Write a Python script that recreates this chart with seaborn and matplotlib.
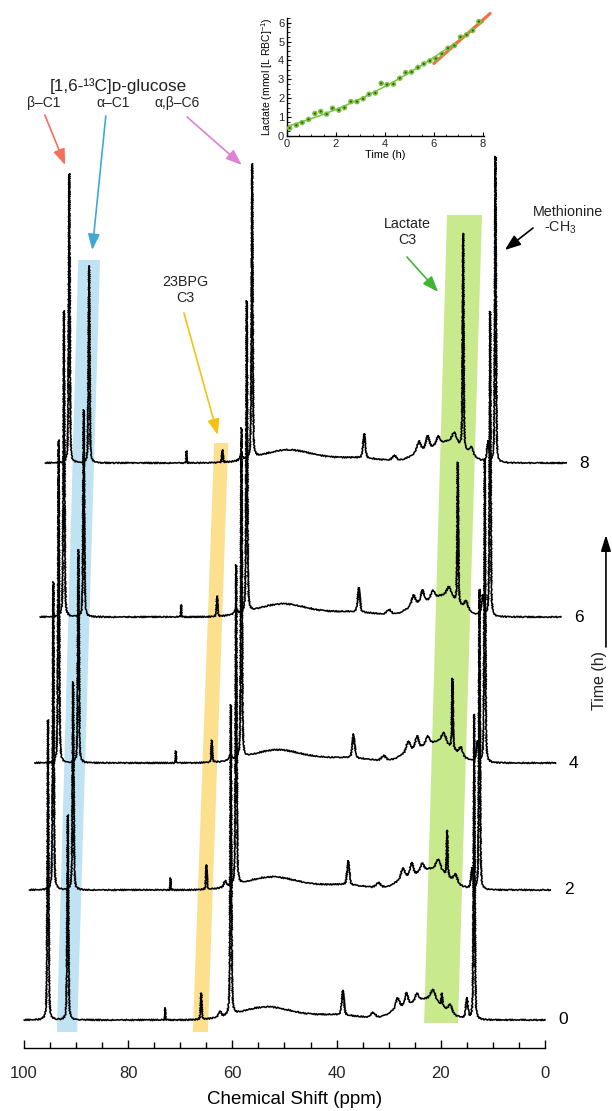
import numpy as np
import pandas as pd
import matplotlib
matplotlib.use("Agg")
import matplotlib.pyplot as plt
import seaborn as sns
from matplotlib.ticker import MultipleLocator, FixedLocator

sns.set_theme(style="ticks")
plt.rcParams['font.family'] = ['Liberation Sans', 'DejaVu Sans']
plt.rcParams['mathtext.fontset'] = 'custom'
plt.rcParams['mathtext.rm'] = 'Liberation Sans'
plt.rcParams['mathtext.it'] = 'Liberation Sans:italic'
plt.rcParams['mathtext.bf'] = 'Liberation Sans:bold'

# ---------------- 13C spectra (one trace every 2 h) ----------------
times = [0, 2, 4, 6, 8]
stack_offsets = [28, 158, 285, 431, 585]   # vertical stacking of the traces
ppm_step = 1.02                            # horizontal skew between traces (ppm)

# glucose / metabolite resonances (ppm) and their heights in each trace
beta_c1_ppm, alpha_c1_ppm, c6_ppm = 95.4, 91.6, 60.3
bpg_c3_ppm, lactate_c3_ppm, methionine_ppm = 66.0, 19.8, 13.6
beta_c1_h = [300, 308, 323, 306, 289]
alpha_c1_h = [205, 208, 213, 207, 197]
c6_h = [310, 320, 330, 311, 294]
bpg_c3_h = [26, 24, 22, 20, 12]
lactate_h = [12, 45, 70, 140, 215]
methionine_h = [305, 300, 303, 305, 306]

# resonances common to all traces: ppm, height, half width
minor_ppm = [72.9, 62.4, 38.8, 33.0, 28.3, 26.6, 24.6, 21.5, 18.2, 15.0]
minor_h = [12, 6, 24, 5, 10, 12, 8, 10, 8, 20]
minor_w = [0.05, 0.3, 0.25, 0.5, 0.4, 0.35, 0.4, 0.5, 0.4, 0.25]
# broad protein background humps: ppm, height, sigma
hump_ppm = [53.5, 40.0, 22.5, 28.0]
hump_h = [13, 5, 21, 8]
hump_sd = [5.0, 5.0, 3.0, 2.0]

# ---------------- lactate time course (inset) ----------------
hours = [0.11, 0.38, 0.62, 0.88, 1.14, 1.38, 1.62, 1.86, 2.12, 2.35, 2.61,
         2.86, 3.11, 3.35, 3.61, 3.85, 4.09, 4.35, 4.61, 4.85, 5.09, 5.35,
         5.59, 5.84, 6.08, 6.33, 6.58, 6.84, 7.09, 7.34, 7.59, 7.84]
lactate_mmol = [0.42, 0.57, 0.71, 0.88, 1.19, 1.30, 1.16, 1.47, 1.37, 1.50,
                1.82, 1.82, 1.97, 2.21, 2.28, 2.79, 2.72, 2.75, 3.06, 3.36,
                3.39, 3.63, 3.82, 3.98, 4.10, 4.35, 4.65, 4.79, 5.24, 5.36,
                5.59, 6.06]
late_rate_t = [6.0, 8.3]
late_rate_y = [3.84, 6.49]


def line_shape(ppm, centre, height, hw):
    lor = 1.0 / (1.0 + ((ppm - centre) / hw) ** 2)
    gau = np.exp(-np.log(2) * ((ppm - centre) / hw) ** 2)
    return height * (0.4 * lor + 0.6 * gau)


ppm = np.linspace(100, 0, 25001)
frames = []
for k, t in enumerate(times):
    y = np.zeros_like(ppm)
    for c, h, s in zip(hump_ppm, hump_h, hump_sd):
        y += h * np.exp(-0.5 * ((ppm - c) / s) ** 2)
    for c, h, w in zip(minor_ppm, minor_h, minor_w):
        y += line_shape(ppm, c, h, w)
    for c, hs, w in [(beta_c1_ppm, beta_c1_h, 0.13), (alpha_c1_ppm, alpha_c1_h, 0.13),
                     (c6_ppm, c6_h, 0.13), (bpg_c3_ppm, bpg_c3_h, 0.12),
                     (lactate_c3_ppm, lactate_h, 0.12), (methionine_ppm, methionine_h, 0.13)]:
        y += line_shape(ppm, c, hs[k], w)
    frames.append(pd.DataFrame({"shift": ppm - k * ppm_step,
                                "signal": y + stack_offsets[k],
                                "time": t}))
spectra = pd.DataFrame(pd.concat(frames, ignore_index=True))

W, H = 612, 1111
fig = plt.figure(figsize=(W / 100, H / 100), dpi=100)
ax = fig.add_axes([24 / W, 63 / H, (W - 24) / W, (H - 63) / H])
ax.set_xlim(100, -12.86)
ax.set_ylim(0, 1048)

# highlighted resonance bands
bands = [
    ([93.7, 89.8, 85.4, 89.6], [16, 16, 788, 788], "#bfe3f3"),
    ([67.6, 64.7, 60.8, 63.5], [16, 16, 605, 605], "#fde08e"),
    ([23.2, 16.7, 12.1, 18.8], [25, 25, 833, 833], "#c8e98c"),
]
for xs, ys, col in bands:
    ax.fill(xs, ys, color=col, lw=0, zorder=1)

sns.lineplot(data=spectra, x="shift", y="signal", units="time", estimator=None,
             sort=False, color="black", lw=1.15, ax=ax, zorder=3)
for ln in ax.lines:
    ln.set_clip_on(False)
    ln.set_sketch_params(scale=0.7, length=2.0, randomness=1.5)

# time labels on the right of each trace
for k, t in enumerate(times):
    ax.text(-3.5 - k * ppm_step, stack_offsets[k], str(t), ha="center",
            va="center", fontsize=12.5, color="black")

ax.set_xlabel("")
ax.set_ylabel("")
ax.set_yticks([])
for s in ["left", "top", "right"]:
    ax.spines[s].set_visible(False)
ax.spines["bottom"].set_bounds(0, 100)
ax.spines["bottom"].set_color("black")
ax.spines["bottom"].set_linewidth(1.0)
ax.set_xticks([100, 80, 60, 40, 20, 0])
ax.xaxis.set_minor_locator(FixedLocator(list(range(5, 100, 5))))
ax.tick_params(axis="x", which="major", direction="in", length=6, width=1,
               labelsize=12, pad=13, color="black")
ax.tick_params(axis="x", which="minor", direction="in", length=4, width=1,
               color="black")
ax.text(48.0, -52, "Chemical Shift (ppm)", fontsize=13.5, ha="center",
        va="center", color="black")

# annotations
txt = dict(ha="center", va="center", color="#222222")
ax.text(81.8, 962, "[1,6-¹³C]ᴅ-glucose", fontsize=12.3, **txt)
ax.text(96.2, 945, "β–C1", fontsize=10, **txt)
ax.text(82.9, 945, "α–C1", fontsize=10, **txt)
ax.text(70.6, 945, "α,β–C6", fontsize=10, **txt)
ax.text(69.1, 758, "23BPG\nC3", fontsize=10.3, linespacing=1.15, **txt)
ax.text(26.5, 816, "Lactate\nC3", fontsize=10.3, linespacing=1.15, **txt)
ax.text(-4.4, 836, "Methionine", fontsize=10.3, **txt)
ax.text(-3.0, 820, "-CH$_3$", fontsize=10.3, **txt)

arrows = [
    ((96.0, 933), (92.1, 883), "#f4705e"),
    ((84.3, 932), (86.9, 798), "#3ea9d4"),
    ((68.7, 931), (58.2, 883), "#dc82d4"),
    ((69.3, 735), (62.8, 613), "#f5c211"),
    ((26.5, 791), (20.5, 756), "#3fb534"),
    ((2.3, 820), (7.7, 798), "black"),
]
for start, end, col in arrows:
    ax.annotate("", xy=end, xytext=start,
                arrowprops=dict(arrowstyle="-|>,head_length=0.8,head_width=0.3",
                                color=col, lw=1.2, shrinkA=0, shrinkB=0),
                annotation_clip=False)

ax.text(-10.4, 368, "Time (h)", rotation=90, fontsize=11.5, **txt)
ax.annotate("", xy=(-11.7, 513), xytext=(-11.7, 401),
            arrowprops=dict(arrowstyle="-|>,head_length=0.8,head_width=0.25",
                            color="black", lw=1.2, shrinkA=0, shrinkB=0),
            annotation_clip=False)

# ---------------- inset: lactate accumulation ----------------
axi = fig.add_axes([287 / W, (H - 136) / H, 197 / W, 118 / H])
axi.set_xlim(0, 8.05)
axi.set_ylim(0, 6.25)
sns.regplot(x=hours, y=lactate_mmol, order=2, ci=None, scatter=False,
            truncate=False, ax=axi, line_kws=dict(color="#7cc242", lw=1.1))
sns.scatterplot(x=hours, y=lactate_mmol, ax=axi, color="#7cc242", s=16,
                edgecolor="none", zorder=4)
sns.scatterplot(x=hours, y=lactate_mmol, ax=axi, color="#2d5e18", s=2.5,
                edgecolor="none", zorder=5)
sns.lineplot(x=late_rate_t, y=late_rate_y, ax=axi, color="#f26d3d", lw=2.2)
axi.lines[-1].set_clip_on(False)
axi.set_xlim(0, 8.05)
axi.set_ylim(0, 6.25)
axi.set_xticks([0, 2, 4, 6, 8])
axi.set_yticks(range(7))
axi.xaxis.set_minor_locator(MultipleLocator(0.5))
axi.yaxis.set_minor_locator(MultipleLocator(0.25))
axi.tick_params(which="major", direction="in", length=3, width=0.8,
                labelsize=8, pad=2, color="black")
axi.tick_params(which="minor", direction="in", length=1.8, width=0.6,
                color="black")
for s in ["top", "right"]:
    axi.spines[s].set_visible(False)
for s in ["left", "bottom"]:
    axi.spines[s].set_color("black")
    axi.spines[s].set_linewidth(1.0)
axi.set_xlabel("Time (h)", fontsize=7.8, labelpad=1, color="black")
axi.set_ylabel("Lactate (mmol [L RBC]$^{-1}$)", fontsize=7.5, labelpad=2,
               color="black")
axi.patch.set_alpha(0)

fig.savefig("out.png", dpi=100)
